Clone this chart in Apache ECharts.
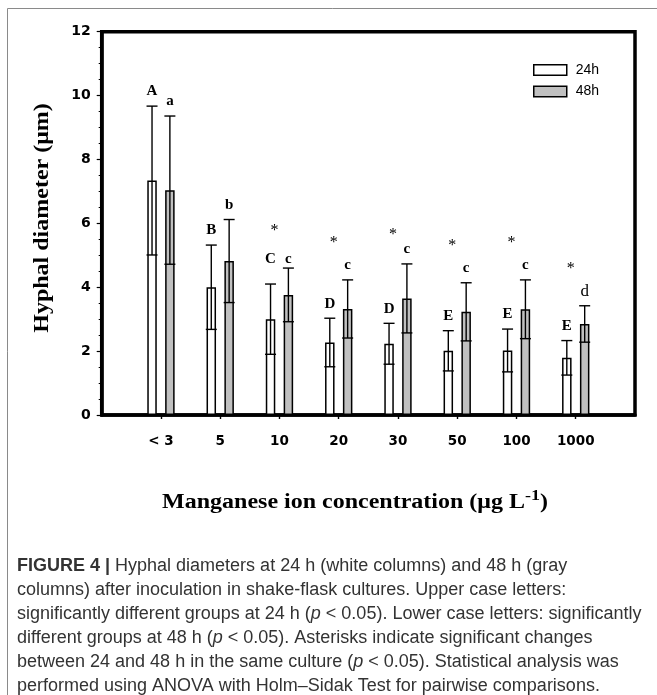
<!DOCTYPE html>
<html>
<head>
<meta charset="utf-8">
<script src="https://cdn.jsdelivr.net/npm/echarts@6/dist/echarts.min.js"></script>
<style>
html,body{margin:0;padding:0;background:#fff;}
#chart{width:657px;height:695px;}
</style>
</head>
<body>
<div id="chart"></div>
<script>
// ---- data ----
const categories = ['< 3', '5', '10', '20', '30', '50', '100', '1000'];
const mean24 = [7.34, 4.00, 3.00, 2.27, 2.23, 2.01, 2.02, 1.79];
const sd24   = [2.33, 1.32, 1.10, 0.76, 0.64, 0.63, 0.67, 0.54];
const mean48 = [7.04, 4.82, 3.76, 3.32, 3.65, 3.23, 3.31, 2.85];
const sd48   = [2.32, 1.30, 0.84, 0.91, 1.08, 0.91, 0.92, 0.57];
const letters24 = ['A', 'B', 'C', 'D', 'D', 'E', 'E', 'E'];
const letters48 = ['a', 'b', 'c', 'c', 'c', 'c', 'c', 'd'];
const asterisks = ['', '', '*', '*', '*', '*', '*', '*'];
const yMin = 0, yMax = 12, yStep = 2;
const seriesNames = ['24h', '48h'];
const yTitle = 'Hyphal diameter (\u03bcm)';
const xTitleMain = 'Manganese ion concentration (\u03bcg L';
const xTitleSup = '-1';
const figLabel = 'FIGURE 4 |';
const captionLines = [
  'Hyphal diameters at 24 h (white columns) and 48 h (gray',
  'columns) after inoculation in shake-flask cultures. Upper case letters:',
  'significantly different groups at 24 h ({i|p} < 0.05). Lower case letters: significantly',
  'different groups at 48 h ({i|p} < 0.05). Asterisks indicate significant changes',
  'between 24 and 48 h in the same culture ({i|p} < 0.05). Statistical analysis was',
  'performed using ANOVA with Holm\u2013Sidak Test for pairwise comparisons.'
];

// ---- layout / style (not data) ----
const BAR_W = 9.5, BAR_GAP = 0.88;
const OFF = (BAR_W + BAR_W * BAR_GAP) / 2;
const CAP_HALF = 5.5;
const LETTER_GAP = 14.5;
const letterNudge = { '0-2': 10, '1-2': -5.5 };
const STAR_GAP = 37;
const starNudge = { 4: -8 };
const SERIF = '"Liberation Serif", "Times New Roman", serif';
const TICKFONT = '"DejaVu Sans", Verdana, sans-serif';
const SANS = '"Liberation Sans", Arial, sans-serif';

const axisCats = [''].concat(categories, ['']);
const pad = a => [null].concat(a, [null]);

const chart = echarts.init(document.getElementById('chart'), null, {renderer: 'canvas'});

function errRender(sIdx, letters) {
  return function (params, api) {
    const i = api.value(0), m = api.value(1), sd = api.value(2);
    const base = api.coord([i, m]);
    const cx = base[0] + (sIdx === 0 ? -OFF : OFF);
    const yHi = api.coord([i, m + sd])[1];
    const yLo = api.coord([i, m - sd])[1];
    const ls = {stroke: '#000', lineWidth: 1.4};
    const k = i - 1;
    const nud = letterNudge[sIdx + '-' + k] || 0;
    const txt = letters[k];
    const regular = (txt === 'd');
    return {
      type: 'group',
      children: [
        {type: 'line', shape: {x1: cx, y1: yLo, x2: cx, y2: yHi}, style: ls},
        {type: 'line', shape: {x1: cx - CAP_HALF, y1: yHi, x2: cx + CAP_HALF, y2: yHi}, style: ls},
        {type: 'line', shape: {x1: cx - CAP_HALF, y1: yLo, x2: cx + CAP_HALF, y2: yLo}, style: ls},
        {type: 'text', x: cx, y: yHi - LETTER_GAP - nud,
         style: {text: txt, fill: '#000', align: 'center', verticalAlign: 'middle',
                 font: (regular ? 'normal 17px ' : 'bold 15px ') + SERIF}}
      ]
    };
  };
}

function starRender(params, api) {
  const i = api.value(0);
  const k = i - 1;
  const hi = Math.max(mean24[k] + sd24[k], mean48[k] + sd48[k]);
  const p = api.coord([i, hi]);
  const y = p[1] - STAR_GAP - (starNudge[k] || 0);
  return {
    type: 'text', x: p[0] - 5, y: y,
    style: {text: asterisks[k], fill: '#000', align: 'center', verticalAlign: 'middle',
            font: 'normal 16px ' + SERIF}
  };
}

const option = {
  animation: false,
  backgroundColor: '#fff',
  grid: {left: 101.7, right: 22, top: 31.7, bottom: 280, show: true,
         borderColor: '#000', borderWidth: 3.5, backgroundColor: 'transparent', containLabel: false},
  legend: {
    orient: 'vertical', left: 533, top: 63, itemWidth: 33, itemHeight: 10.5, itemGap: 7.5,
    padding: 0, icon: 'rect',
    textStyle: {fontFamily: SANS, fontSize: 14, color: '#000', padding: [0, 0, 0, 4]},
    data: [
      {name: seriesNames[0], itemStyle: {color: '#fff', borderColor: '#000', borderWidth: 1.5}},
      {name: seriesNames[1], itemStyle: {color: '#c0c0c0', borderColor: '#000', borderWidth: 1.5}}
    ]
  },
  xAxis: {
    type: 'category', data: axisCats, boundaryGap: false,
    axisLine: {lineStyle: {color: '#000', width: 3.5}},
    axisTick: {show: true, length: 4, lineStyle: {color: '#000', width: 1.4},
               interval: (idx, val) => val !== ''},
    axisLabel: {interval: 0, margin: 19, color: '#000', fontWeight: 'bold', fontSize: 13.5,
                fontFamily: TICKFONT},
    splitLine: {show: false}
  },
  yAxis: {
    type: 'value', min: yMin, max: yMax, interval: yStep,
    axisLine: {show: true, lineStyle: {color: '#000', width: 3.5}},
    axisTick: {show: true, length: 5, lineStyle: {color: '#000', width: 1.2}},
    minorTick: {show: true, splitNumber: 4, length: 3, lineStyle: {color: '#000', width: 1}},
    axisLabel: {margin: 11, color: '#000', fontWeight: 'bold', fontSize: 14,
                fontFamily: TICKFONT},
    splitLine: {show: false}
  },
  series: [
    {type: 'bar', name: seriesNames[0], data: pad(mean24), barWidth: BAR_W, barGap: (BAR_GAP * 100) + '%',
     itemStyle: {color: '#fff', borderColor: '#000', borderWidth: 1.5}},
    {type: 'bar', name: seriesNames[1], data: pad(mean48), barWidth: BAR_W, barGap: (BAR_GAP * 100) + '%',
     itemStyle: {color: '#c0c0c0', borderColor: '#000', borderWidth: 1.5}},
    {type: 'custom', name: 'err24', z: 5, renderItem: errRender(0, letters24),
     data: mean24.map((m, k) => [k + 1, m, sd24[k]])},
    {type: 'custom', name: 'err48', z: 5, renderItem: errRender(1, letters48),
     data: mean48.map((m, k) => [k + 1, m, sd48[k]])},
    {type: 'custom', name: 'stars', z: 5, renderItem: starRender,
     data: categories.map((c, k) => [k + 1, 0]).filter((d, k) => asterisks[k] !== '')}
  ],
  graphic: [
    {type: 'polyline', silent: true, shape: {points: [[7.5, 695], [7.5, 8.5], [657, 8.5]]},
     style: {stroke: '#8a8a8a', lineWidth: 1, fill: null}},
    {type: 'text', silent: true, x: 42.5, y: 218, rotation: Math.PI / 2, scaleX: 1.2,
     style: {text: yTitle, align: 'center', verticalAlign: 'middle', fill: '#000',
             font: 'bold 20px ' + SERIF}},
    {type: 'text', silent: true, x: 355, y: 501, scaleX: 1.2,
     style: {text: '{t|' + xTitleMain + '}{s|' + xTitleSup + '}{t|)}', align: 'center', verticalAlign: 'middle',
             rich: {
               t: {fontFamily: SERIF, fontWeight: 'bold', fontSize: 20, fill: '#000', verticalAlign: 'bottom'},
               s: {fontFamily: SERIF, fontWeight: 'bold', fontSize: 15, fill: '#000', verticalAlign: 'top', padding: [0, 0, 9, 0]}
             }}},
    {type: 'text', left: 17, top: 554, silent: true,
     style: {
       text: '{b|' + figLabel + '} ' + captionLines.join('\n'),
       font: '18px ' + SANS, fill: '#333', lineHeight: 24,
       rich: {
         b: {fontFamily: SANS, fontWeight: 'bold', fontSize: 18, fill: '#333', lineHeight: 24},
         i: {fontFamily: SANS, fontStyle: 'italic', fontSize: 18, fill: '#333', lineHeight: 24}
       }
     }}
  ]
};
chart.setOption(option);
</script>
</body>
</html>
